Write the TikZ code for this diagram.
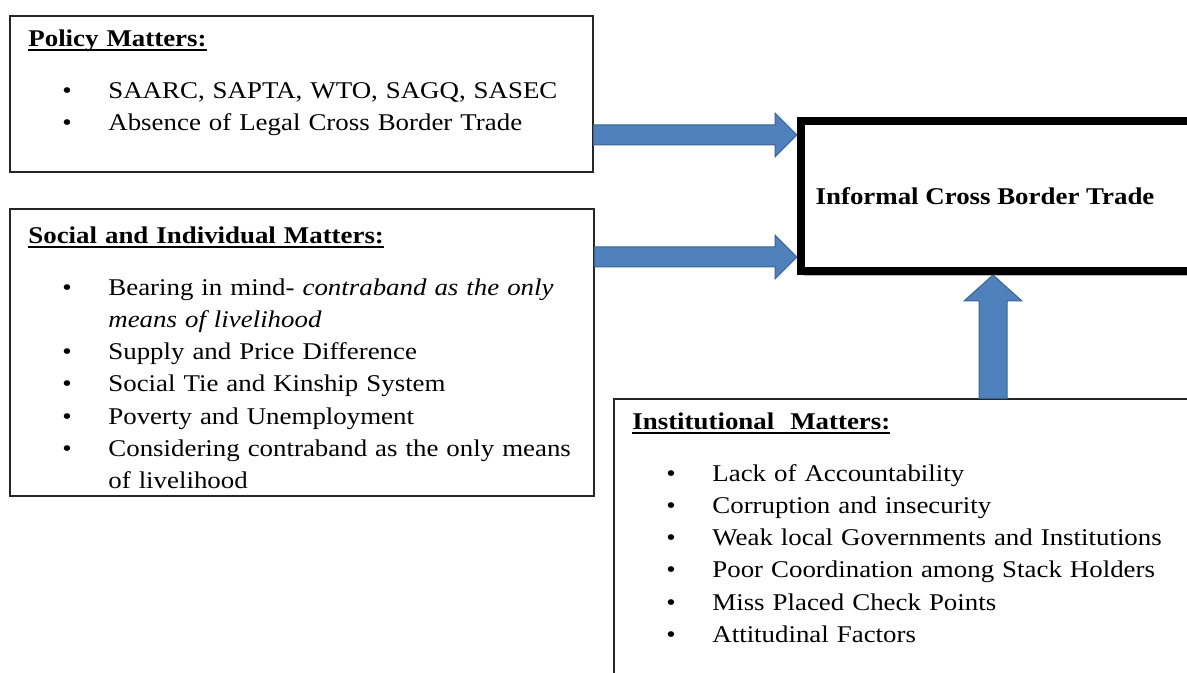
\documentclass[tikz,border=0pt]{standalone}
\usepackage{fontspec}
\setmainfont[FakeStretch=1.12]{Liberation Serif}
\usetikzlibrary{calc,fit,shadows}
\definecolor{arrowblue}{HTML}{4F81BD}
\definecolor{arrowline}{HTML}{3A6592}
\newcommand{\entry}[1]{\par\hangindent=40pt\hangafter=1\noindent\hspace*{17pt}\makebox[23pt][l]{\textbullet}#1\par}
\newcommand{\heading}[1]{\noindent\setbox0\hbox{\bfseries #1}\rlap{\rule[-2.4pt]{\wd0}{0.9pt}}\box0\par\vspace{10pt}}
\begin{document}
\begin{tikzpicture}[x=0.5pt,y=-0.5pt,
 box/.style={draw=black!85,line width=0.6pt,inner sep=0pt},
 listtext/.style={anchor=north west,inner sep=0pt,text width=320pt,align=left,
  font=\fontsize{12}{16.1}\selectfont},
 rarrow/.style={draw=arrowline,fill=arrowblue,line width=0.5pt,
  to path={($(\tikztostart)+(0,-10)$) -- ($(\tikztotarget)+(-22,-10)$)
  -- ($(\tikztotarget)+(-22,-22)$) -- (\tikztotarget) -- ($(\tikztotarget)+(-22,22)$)
  -- ($(\tikztotarget)+(-22,10)$) -- ($(\tikztostart)+(0,10)$) -- cycle}},
 uarrow/.style={draw=arrowline,fill=arrowblue,line width=0.5pt,
  to path={($(\tikztostart)+(-14,0)$) -- ($(\tikztotarget)+(-14,26)$)
  -- ($(\tikztotarget)+(-29,26)$) -- (\tikztotarget) -- ($(\tikztotarget)+(29,26)$)
  -- ($(\tikztotarget)+(14,26)$) -- ($(\tikztostart)+(14,0)$) -- cycle}}]
 \useasboundingbox (0,0) rectangle (1187,673);
 \clip (0,0) rectangle (1187,673);

 % the four boxes
 \node[box,fit={(10,16) (593,172)}] (policy) {};
 \node[box,fit={(10,209) (594,496)}] (social) {};
 \node[box,fit={(614,399) (1210,700)}] (inst) {};
 \node[box,draw=black,line width=4pt,fill=white,
  drop shadow={shadow xshift=1.5pt,shadow yshift=-2.5pt,opacity=0.45,fill=black!60},
  fit={(801,121) (1194,271)}] (trade) {};
 \node[font=\bfseries\fontsize{12}{14}\selectfont] (tradetxt) at (985,196) {Informal Cross Border Trade};

 % lists
 \node[listtext] (policytxt) at (28,29) {\heading{Policy Matters:}
  \entry{SAARC, SAPTA, WTO, SAGQ, SASEC}
  \entry{Absence of Legal Cross Border Trade}};
 \node[listtext] (socialtxt) at (28,226) {\heading{Social and Individual Matters:}
  \entry{Bearing in mind- \textit{contraband as the only}\newline\textit{means of livelihood}}
  \entry{Supply and Price Difference}
  \entry{Social Tie and Kinship System}
  \entry{Poverty and Unemployment}
  \entry{Considering contraband as the only means\newline of livelihood}};
 \node[listtext] (insttxt) at (632,412) {\heading{Institutional\ \ Matters:}
  \entry{Lack of Accountability}
  \entry{Corruption and insecurity}
  \entry{Weak local Governments and Institutions}
  \entry{Poor Coordination among Stack Holders}
  \entry{Miss Placed Check Points}
  \entry{Attitudinal Factors}};

 % block arrows
 \coordinate (ya) at (0,135);
 \coordinate (yb) at (0,257);
 \coordinate (xc) at (993,0);
 \draw[rarrow] (policy.east |- ya) to (trade.west |- ya);
 \draw[rarrow] (social.east |- yb) to (trade.west |- yb);
 \draw[uarrow] (inst.north -| xc) to (trade.south -| xc);
\end{tikzpicture}
\end{document}
